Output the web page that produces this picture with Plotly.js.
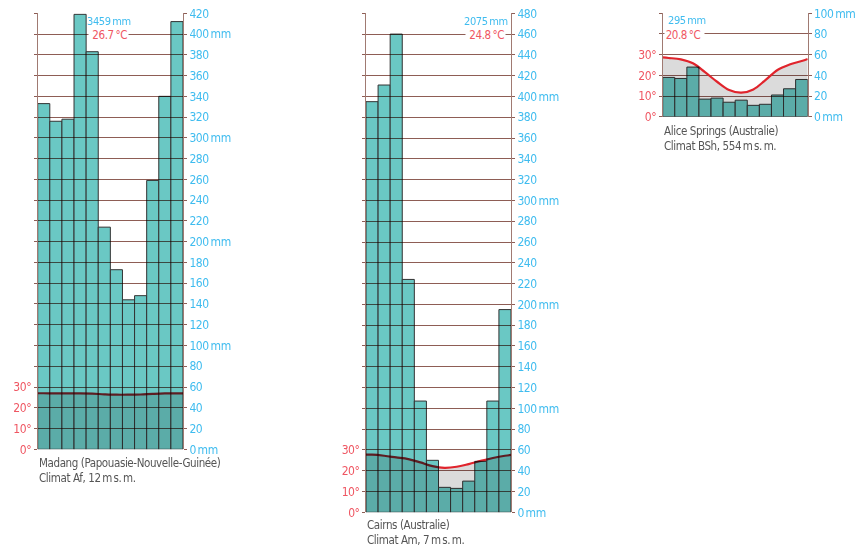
<!DOCTYPE html>
<html>
<head>
<meta charset="utf-8">
<script src="https://cdn.plot.ly/plotly-3.0.1.min.js"></script>
<style>
  html, body { margin: 0; padding: 0; background: #fff; }
  #chart { width: 868px; height: 546px; }
  .barlayer .trace { mix-blend-mode: multiply; }
  svg text { letter-spacing: -0.4px; }
</style>
</head>
<body>
<div id="chart"></div>
<script>
// ---------- data ----------
const months = [1, 2, 3, 4, 5, 6, 7, 8, 9, 10, 11, 12];

// Madang (Papouasie-Nouvelle-Guinée)
const madangPrecip = [333, 316, 318, 419, 383, 214, 173, 144, 148, 259, 340, 412];
const madangTemp = [27.0, 26.9, 26.9, 26.9, 26.8, 26.5, 26.3, 26.3, 26.4, 26.7, 26.9, 26.9];
const madangTempEdges = [27.0, 26.9];
const madangTotal = '3459\u2009mm';
const madangMean = '26.7\u2009°C';

// Cairns (Australie)
const cairnsPrecip = [395, 411, 460, 224, 107, 50, 24, 23, 30, 49, 107, 195];
const cairnsTemp = [27.7, 27.2, 26.4, 25.6, 24.0, 22.2, 21.4, 21.9, 23.2, 24.7, 26.1, 27.2];
const cairnsTempEdges = [27.7, 27.6];
const cairnsTotal = '2075\u2009mm';
const cairnsMean = '24.8\u2009°C';

// Alice Springs (Australie)
const alicePrecip = [38, 37, 48, 17, 18, 14, 16, 11, 12, 21, 27, 36];
const aliceTemp = [28.4, 27.7, 25.8, 21.5, 16.9, 12.9, 11.6, 13.2, 17.7, 22.6, 25.2, 26.9];
const aliceTempEdges = [28.7, 27.9];
const aliceTotal = '295\u2009mm';
const aliceMean = '20.8\u2009°C';

// tick labels
const tempTickVals = [0, 10, 20, 30];
const tempTickText = ['0°', '10°', '20°', '30°'];

const madangMmTicks = [0, 20, 40, 60, 80, 100, 120, 140, 160, 180, 200, 220, 240, 260, 280, 300, 320, 340, 360, 380, 400, 420];
const madangMmText = ['0\u2009mm', '20', '40', '60', '80', '100\u2009mm', '120', '140', '160', '180', '200\u2009mm', '220', '240', '260', '280', '300\u2009mm', '320', '340', '360', '380', '400\u2009mm', '420'];

const cairnsMmTicks = [0, 20, 40, 60, 80, 100, 120, 140, 160, 180, 200, 220, 240, 260, 280, 300, 320, 340, 360, 380, 400, 420, 440, 460, 480];
const cairnsMmText = ['0\u2009mm', '20', '40', '60', '80', '100\u2009mm', '120', '140', '160', '180', '200\u2009mm', '220', '240', '260', '280', '300\u2009mm', '320', '340', '360', '380', '400\u2009mm', '420', '440', '460', '480'];

const aliceMmTicks = [0, 20, 40, 60, 80, 100];
const aliceMmText = ['0\u2009mm', '20', '40', '60', '80', '100\u2009mm'];

const captions = [
  ['Madang (Papouasie-Nouvelle-Guinée)', 'Climat Af, 12\u2009m\u2009s.\u2009m.'],
  ['Cairns (Australie)', 'Climat Am, 7\u2009m\u2009s.\u2009m.'],
  ['Alice Springs (Australie)', 'Climat BSh, 554\u2009m\u2009s.\u2009m.']
];

// ---------- styles ----------
const FONT = "'DejaVu Sans Condensed', 'Liberation Sans Narrow', sans-serif";
const TEAL = '#6ac8c4';
const BAR_EDGE = '#333333';
const GRID = '#8e5d55';
const AXLINE = '#a07a72';
const RED_LINE = '#e0242c';
const RED_TXT = '#ef5662';
const BLUE_TXT = '#3fbcef';
const CAPTION = '#555555';
const W = 868, H = 546;

function px(x) { return x / W; }
function py(y) { return (H - y) / H; }

const panels = [
  { precip: madangPrecip, temp: madangTemp, edges: madangTempEdges, mmMax: 420, mmTicks: madangMmTicks, mmText: madangMmText,
    left: 37.7, right: 183, top: 13.3, bottom: 449.3, total: madangTotal, mean: madangMean,
    textAnchor: 'right', totalX: 133, meanX: 128.5, labelLevel: 400, cap: captions[0], capY: 470 },
  { precip: cairnsPrecip, temp: cairnsTemp, edges: cairnsTempEdges, mmMax: 480, mmTicks: cairnsMmTicks, mmText: cairnsMmText,
    left: 366, right: 511, top: 13.3, bottom: 512.3, total: cairnsTotal, mean: cairnsMean,
    textAnchor: 'right', totalX: 510, meanX: 506, labelLevel: 460, cap: captions[1], capY: 532.5 },
  { precip: alicePrecip, temp: aliceTemp, edges: aliceTempEdges, mmMax: 100, mmTicks: aliceMmTicks, mmText: aliceMmText,
    left: 662.7, right: 807.7, top: 13.3, bottom: 116.7, total: aliceTotal, mean: aliceMean,
    textAnchor: 'left', totalX: 665.5, meanX: 664, labelLevel: 80, cap: captions[2], capY: 138 }
];

const data = [];
const layout = {
  width: W, height: H,
  margin: { l: 0, r: 0, t: 0, b: 0, pad: 0 },
  paper_bgcolor: '#ffffff',
  plot_bgcolor: '#ffffff',
  showlegend: false,
  bargap: 0,
  font: { family: FONT, size: 12, color: CAPTION },
  annotations: []
};

panels.forEach(function (p, i) {
  const xName = i === 0 ? 'x' : 'x' + (i + 1);
  const tId = 2 * i + 1, mId = 2 * i + 2;
  const tName = tId === 1 ? 'y' : 'y' + tId;
  const mName = 'y' + mId;
  const xKey = i === 0 ? 'xaxis' : 'xaxis' + (i + 1);
  const tKey = tId === 1 ? 'yaxis' : 'yaxis' + tId;
  const mKey = 'yaxis' + mId;

  layout[xKey] = {
    domain: [px(p.left), px(p.right)],
    anchor: tName,
    range: [months[0] - 0.5, months[months.length - 1] + 0.5],
    visible: false, fixedrange: true
  };
  layout[tKey] = {
    domain: [py(p.bottom), py(p.top)],
    anchor: xName,
    side: 'left',
    range: [0, p.mmMax / 2],
    tickvals: tempTickVals, ticktext: tempTickText,
    ticks: 'outside', ticklen: 3, tickcolor: GRID, tickwidth: 1,
    tickfont: { family: FONT, size: 12, color: RED_TXT },
    showgrid: false, zeroline: false, showline: false, fixedrange: true
  };
  layout[mKey] = {
    overlaying: tName,
    anchor: xName,
    side: 'right',
    range: [0, p.mmMax],
    tickvals: p.mmTicks, ticktext: p.mmText,
    ticks: 'outside', ticklen: 3, tickcolor: GRID, tickwidth: 1,
    tickfont: { family: FONT, size: 12, color: BLUE_TXT },
    showgrid: true, gridcolor: GRID, gridwidth: 1,
    zeroline: false, showline: true, linecolor: AXLINE, linewidth: 1, mirror: 'ticks',
    fixedrange: true
  };

  // temperature curve with grey area underneath (on the temperature axis)
  const tx = [months[0] - 0.5].concat(months, [months[months.length - 1] + 0.5]);
  const ty = [p.edges[0]].concat(p.temp, [p.edges[1]]);
  data.push({
    type: 'scatter', mode: 'lines', x: tx, y: ty,
    xaxis: xName, yaxis: tName,
    line: { color: RED_LINE, width: 2.2, shape: 'spline', smoothing: 1 },
    fill: 'tozeroy', fillcolor: 'rgba(0,0,0,0.14)',
    cliponaxis: false, hoverinfo: 'skip'
  });

  // precipitation bars (on the mm axis, drawn above, multiplied)
  data.push({
    type: 'bar', x: months, y: p.precip, width: 1,
    xaxis: xName, yaxis: mName,
    marker: { color: TEAL, line: { color: BAR_EDGE, width: 1 } },
    cliponaxis: false, hoverinfo: 'skip'
  });

  // mean temperature (white box interrupting the gridline), then annual total
  const pad = '\u2009\u2009';
  layout.annotations.push({
    xref: 'paper', yref: mName,
    x: px(p.meanX), y: p.labelLevel, yshift: -1,
    xanchor: p.textAnchor, yanchor: 'middle',
    text: p.textAnchor === 'right' ? pad + p.mean + '\u200a' : '\u200a' + p.mean + pad,
    showarrow: false, bgcolor: '#ffffff', borderpad: 0,
    font: { family: FONT, size: 11.5, color: RED_TXT }
  });
  layout.annotations.push({
    xref: 'paper', yref: mName,
    x: px(p.totalX), y: p.labelLevel, yshift: 13,
    xanchor: p.textAnchor, yanchor: 'middle',
    text: p.total, showarrow: false,
    font: { family: FONT, size: 11, color: BLUE_TXT }
  });
  // caption (two lines)
  layout.annotations.push({
    xref: 'paper', yref: 'paper',
    x: px(p.left - 1), y: py(p.capY),
    xanchor: 'left', yanchor: 'middle', align: 'left',
    text: p.cap.join('<br>'), showarrow: false,
    font: { family: FONT, size: 11.5, color: CAPTION }
  });
});

Plotly.newPlot('chart', data, layout, { staticPlot: true, displayModeBar: false });
</script>
</body>
</html>
